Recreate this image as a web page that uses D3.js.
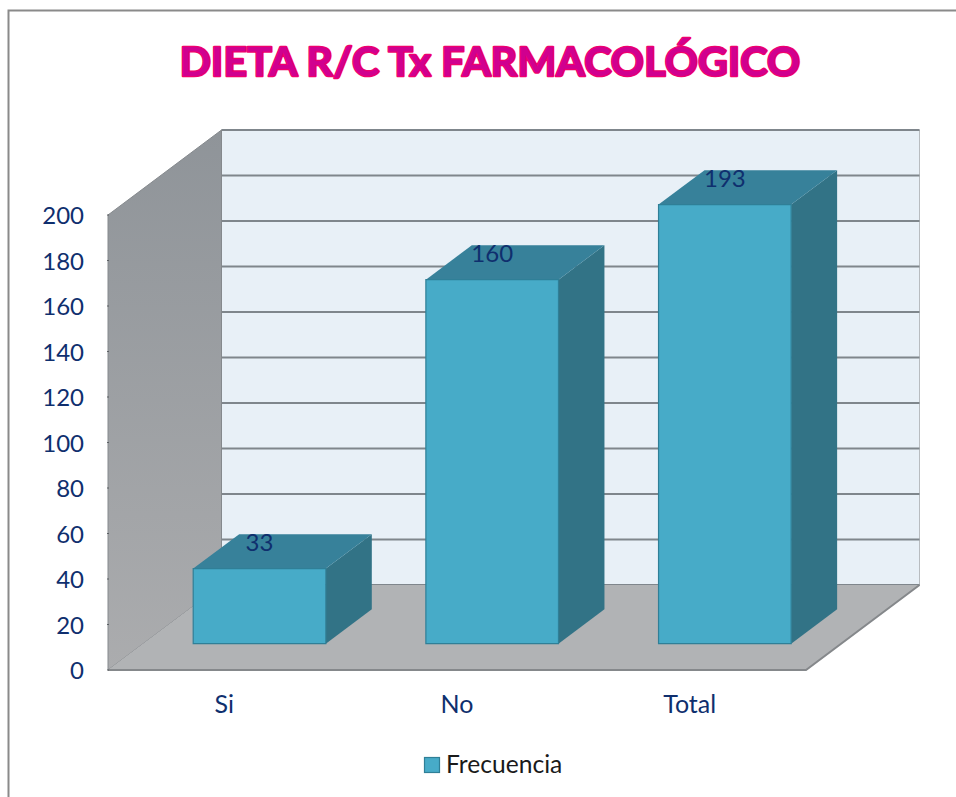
<!DOCTYPE html>
<html>
<head>
<meta charset="utf-8">
<script src="https://cdn.jsdelivr.net/npm/d3@7"></script>
<style>
  html, body { margin: 0; padding: 0; background: #fff; }
  svg { display: block; }
  text { font-family: Lato, "Open Sans", sans-serif; }
</style>
</head>
<body>
<svg id="chart" width="956" height="797"></svg>
<script>
const categories = ['Si', 'No', 'Total'];
const frecuencia = [33, 160, 193];
const yTicks = [0, 20, 40, 60, 80, 100, 120, 140, 160, 180, 200];
const titleText = 'DIETA R/C Tx FARMACOLÓGICO';
const seriesName = 'Frecuencia';

const svg = d3.select('#chart');

const x = d3.scaleBand().domain(categories).range([108, 806])
    .paddingInner(0.43).paddingOuter(0.215);
const y = d3.scaleLinear().domain([0, 200]).range([670, 215]);
// depth goes 0 (front of floor) to 1 (back wall)
const depthX = d3.scaleLinear().domain([0, 1]).range([0, 113.5]);
const depthY = d3.scaleLinear().domain([0, 1]).range([0, -85]);
const barFront = 0.31, barBack = 0.715;

const px = (vx, z) => vx + depthX(z);
const py = (v, z) => y(v) + depthY(z);
const pt = (vx, v, z) => [px(vx, z), py(v, z)];
const poly = d3.line();

const defs = svg.append('defs');
const wallGrad = defs.append('linearGradient').attr('id', 'sideWall')
    .attr('x1', 0).attr('y1', 0).attr('x2', 0).attr('y2', 1);
wallGrad.append('stop').attr('offset', '0%').attr('stop-color', '#8f9499');
wallGrad.append('stop').attr('offset', '100%').attr('stop-color', '#abacae');

// outer frame, only top and left show up in the picture
svg.append('path').attr('d', 'M8.5,797V10.5H956')
    .attr('fill', 'none').attr('stroke', '#8a8a8a').attr('stroke-width', 2);

const xMin = x.range()[0], xMax = x.range()[1];

// back wall
svg.append('path')
    .attr('d', poly([pt(xMin, 0, 1), pt(xMin, 200, 1), pt(xMax, 200, 1), pt(xMax, 0, 1)]) + 'Z')
    .attr('fill', '#e8f0f7').attr('stroke', '#b8bcc0').attr('stroke-width', 1);

// gridlines on back wall
svg.append('g').selectAll('line').data(yTicks).join('line')
    .attr('x1', px(xMin, 1)).attr('x2', px(xMax, 1))
    .attr('y1', d => py(d, 1)).attr('y2', d => py(d, 1))
    .attr('stroke', '#7f868c').attr('stroke-width', 2);

// side wall
svg.append('path')
    .attr('d', poly([pt(xMin, 0, 0), pt(xMin, 200, 0), pt(xMin, 200, 1), pt(xMin, 0, 1)]) + 'Z')
    .attr('fill', 'url(#sideWall)').attr('stroke', '#85898d').attr('stroke-width', 1);

// floor
svg.append('path')
    .attr('d', poly([pt(xMin, 0, 0), pt(xMin, 0, 1), pt(xMax, 0, 1), pt(xMax, 0, 0)]) + 'Z')
    .attr('fill', '#b1b3b5');
svg.append('path')
    .attr('d', poly([pt(xMin, 0, 0), pt(xMax, 0, 0), pt(xMax, 0, 1)]))
    .attr('fill', 'none').attr('stroke', '#85888b').attr('stroke-width', 2);

// small ticks on the left edge of the side wall
svg.append('g').selectAll('line').data(yTicks).join('line')
    .attr('x1', xMin - 1).attr('x2', xMin + 1)
    .attr('y1', d => y(d)).attr('y2', d => y(d))
    .attr('stroke', '#5d6165');

// bars
const bars = svg.append('g').selectAll('g')
    .data(categories.map((c, i) => ({ c, v: frecuencia[i] })))
    .join('g');

bars.append('path') // right side
    .attr('d', d => {
        const r = x(d.c) + x.bandwidth();
        return poly([pt(r, 0, barFront), pt(r, d.v, barFront), pt(r, d.v, barBack), pt(r, 0, barBack)]) + 'Z';
    })
    .attr('fill', '#327386');

bars.append('path') // top
    .attr('d', d => {
        const l = x(d.c), r = l + x.bandwidth();
        return poly([pt(l, d.v, barFront), pt(l, d.v, barBack), pt(r, d.v, barBack), pt(r, d.v, barFront)]) + 'Z';
    })
    .attr('fill', '#37819a');

bars.append('path') // front
    .attr('d', d => {
        const l = x(d.c), r = l + x.bandwidth();
        return poly([pt(l, 0, barFront), pt(l, d.v, barFront), pt(r, d.v, barFront), pt(r, 0, barFront)]) + 'Z';
    })
    .attr('fill', '#47abc8').attr('stroke', '#2f7f97').attr('stroke-width', 1.2);

// value labels sit on the back edge of the bar top
bars.append('text')
    .attr('x', d => px(x(d.c) + x.bandwidth() / 2, barFront))
    .attr('y', d => py(d.v, barBack) + 8)
    .attr('dy', '0.35em')
    .attr('text-anchor', 'middle')
    .attr('font-size', 24)
    .attr('fill', '#0f2f6e')
    .text(d => d.v);

// y axis labels
svg.append('g').selectAll('text').data(yTicks).join('text')
    .attr('x', 84).attr('y', d => y(d) + 1)
    .attr('dy', '0.35em')
    .attr('text-anchor', 'end')
    .attr('font-size', 24)
    .attr('fill', '#0f2f6e')
    .text(d => d);

// x axis labels
svg.append('g').selectAll('text').data(categories).join('text')
    .attr('x', d => x(d) + x.bandwidth() / 2)
    .attr('y', 704)
    .attr('dy', '0.35em')
    .attr('text-anchor', 'middle')
    .attr('font-size', 25)
    .attr('fill', '#0f2f6e')
    .text(d => d);

// title
svg.append('text')
    .attr('x', 490).attr('y', 62)
    .attr('dy', '0.35em')
    .attr('text-anchor', 'middle')
    .attr('font-size', 41)
    .attr('font-weight', 700)
    .attr('letter-spacing', 0.2)
    .attr('fill', '#d0008f')
    .attr('stroke', '#f0006e')
    .attr('stroke-width', 2.6)
    .attr('stroke-linejoin', 'round')
    .attr('paint-order', 'stroke')
    .text(titleText);

// legend
svg.append('rect')
    .attr('x', 424.5).attr('y', 757.5).attr('width', 15).attr('height', 15)
    .attr('fill', '#47abc8').attr('stroke', '#2f7f97').attr('stroke-width', 1.2);
svg.append('text')
    .attr('x', 446).attr('y', 764)
    .attr('dy', '0.35em')
    .attr('font-size', 24.6)
    .attr('fill', '#1a1a1a')
    .text(seriesName);
</script>
</body>
</html>
